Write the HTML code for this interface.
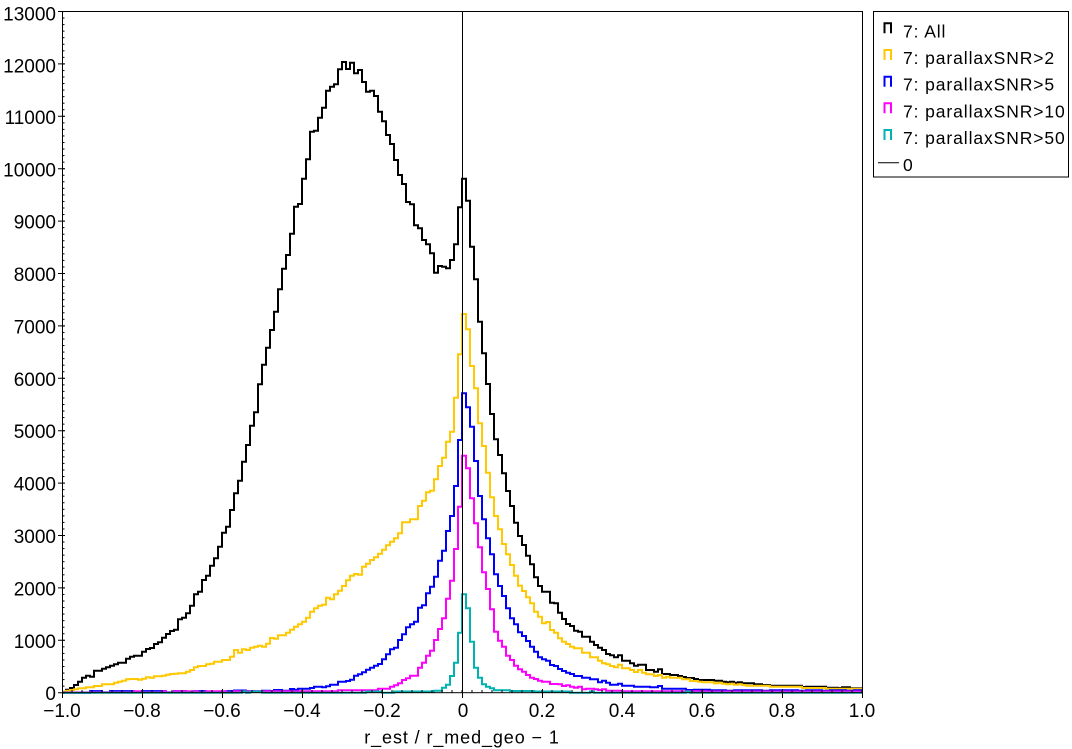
<!DOCTYPE html>
<html>
<head>
<meta charset="utf-8">
<style>
  html, body { margin: 0; padding: 0; background: #fff; }
  svg { display: block; }
  text { font-family: "Liberation Sans", "DejaVu Sans", sans-serif; fill: #000; }
</style>
</head>
<body>
<svg width="1072" height="749" viewBox="0 0 1072 749" xmlns="http://www.w3.org/2000/svg">
  <defs>
    <clipPath id="plot"><rect x="62" y="11" width="801" height="683"/></clipPath>
    <pattern id="ym" x="0" y="692.2" width="10" height="6.55" patternUnits="userSpaceOnUse">
      <rect x="0" y="0" width="10" height="1" fill="#000"/>
    </pattern>
    <pattern id="xm" x="61.5" y="0" width="10" height="10" patternUnits="userSpaceOnUse">
      <rect x="0" y="0" width="1" height="10" fill="#000"/>
    </pattern>
  </defs>
  <rect x="0" y="0" width="1072" height="749" fill="#fff"/>

  <g clip-path="url(#plot)">
    <g transform="translate(62,692.7) scale(4,-1)" fill="none" stroke-width="2" stroke-linejoin="miter">
      <!-- All -->
      <path vector-effect="non-scaling-stroke" stroke="#000" d="M0,1 H1V3 H2V4.7 H3V7.7 H4V11 H5V15 H6V17 H7V16 H8V22 H10V24 H11V25.4 H12V27 H13V28.4 H14V30 H16V34 H17V36 H18V37 H20V41 H21V43.7 H22V44.7 H23V48.7 H24V50.4 H25V55 H26V58.7 H27V61.7 H28V63 H29V73.4 H30V75 H31V79.4 H32V87 H33V98.4 H34V101 H35V112.7 H36V117 H37V127 H38V134.4 H39V146 H40V160 H41V166 H42V182.7 H43V199.4 H44V212 H45V231 H46V247.7 H47V267 H48V280.4 H49V308.4 H50V328 H51V345 H52V362.7 H53V381 H54V403.4 H55V424 H56V437.7 H57V459 H58V486 H59V488.7 H60V514 H61V533.4 H62V561 H63V562 H64V575 H65V585 H66V602 H67V606 H68V608.4 H69V623.4 H70V630.7 H71V623.7 H72V630 H73V619.4 H74V622.7 H75V610.7 H76V601 H77V602 H78V596.7 H79V581 H80V571.4 H81V557.7 H82V548.7 H83V532.7 H84V517.7 H85V508.7 H86V490.7 H87V488.4 H88V467.4 H89V464.4 H90V452.7 H91V448.4 H92V439.4 H93V420 H94V426.7 H95V426 H96V424.4 H97V432.7 H98V448.4 H99V485.4 H100V514 H101V492 H102V446 H103V413.4 H104V371 H105V339.4 H106V308.7 H107V278.7 H108V253.4 H109V237.7 H110V219.4 H111V201.7 H112V186.7 H113V170 H114V156.7 H115V147.7 H116V137 H117V128.4 H118V115.4 H119V106.7 H120V101 H122V90 H123V89.4 H124V80 H125V73.7 H126V68.7 H127V66.7 H128V62 H129V61 H130V56 H132V51 H133V47.7 H134V45 H135V42.7 H136V38.7 H137V37.4 H138V35.4 H139V37.4 H140V32 H142V29.4 H143V27 H144V28 H146V22.7 H148V21 H149V23.4 H150V18.7 H152V17.7 H154V16.7 H155V15.7 H156V14.7 H158V13.7 H159V12.7 H163V12 H165V11 H166V10.4 H167V11 H168V10 H169V10.5 H170V9.4 H173V8.4 H175V7.7 H177V7 H185V5.7 H186V6 H191V5 H194V4.7 H195V5.4 H197V4.4 H200"/>
      <!-- SNR>2 -->
      <path vector-effect="non-scaling-stroke" stroke="#ffc800" d="M0,1 H1V2 H2V2.7 H3V3.4 H4V4.4 H6V5.4 H8V6.7 H10V8.4 H13V10 H14V11 H15V12 H16V13.4 H17V13.7 H19V13 H20V14 H21V15.4 H22V15 H23V16.4 H25V17 H26V18 H27V18.7 H28V19 H29V19.4 H31V21 H32V22.7 H33V25.4 H34V26.7 H36V28.4 H37V29 H38V31 H40V32.7 H42V36 H43V42.7 H44V40 H45V43.4 H46V42.7 H47V45 H48V46 H49V47 H50V46 H51V49 H52V54.7 H53V54 H54V57.4 H56V60 H57V63 H58V66 H59V68.4 H60V71 H61V75 H62V81 H63V84.4 H64V87 H65V88 H66V95 H67V93.4 H68V98.4 H69V102 H70V106.7 H71V112.4 H72V117 H73V118.7 H74V118 H75V126 H76V129 H77V132.7 H78V135.4 H79V139 H80V143 H81V147.4 H82V151 H83V154.4 H84V159.4 H85V170.4 H87V173.4 H89V186.7 H90V192 H91V200.4 H92V202 H93V213.4 H94V226.7 H95V235 H96V251 H97V261 H98V295 H99V338.4 H100V378.7 H101V363.4 H102V326.7 H103V304.4 H104V269.4 H105V246.7 H106V220 H107V195.4 H108V176.7 H109V163.4 H110V148.7 H111V138.4 H112V127.7 H113V117 H114V107 H115V101.7 H116V95.4 H117V89.4 H118V81 H119V76 H120V69.4 H121V70.7 H122V62.7 H123V60 H124V54.4 H125V51 H126V48.7 H127V46 H128V44.4 H130V40 H132V35.4 H134V32 H135V29.4 H136V28.4 H137V26.7 H138V25.4 H139V28 H140V24.4 H142V22.7 H143V20.7 H144V22.7 H145V20 H146V18.4 H148V16.7 H149V17.7 H150V15 H151V16 H152V15 H155V13.4 H157V11.7 H159V11 H160V10.4 H163V9.5 H164V10 H165V9 H166V8.5 H167V9 H168V8 H169V8.5 H170V7.7 H171V7 H177V6 H185V4.7 H191V4 H200"/>
      <!-- SNR>5 -->
      <path vector-effect="non-scaling-stroke" stroke="#0000ff" d="M0,0 H7V1.6 H10V0.3 H12V1.6 H18V0.3 H20V1.6 H26V0.3 H28V1.6 H31V0.3 H33V1.6 H36V0.3 H41V1.6 H43V2.2 H46V1.6 H48V1.4 H50V2 H52V1.4 H53V2.7 H55V2 H57V3.7 H58V3 H59V4 H62V4.7 H63V6 H65V5.4 H66V6.4 H67V8 H69V11 H71V11.7 H72V13 H73V17 H74V18.4 H75V20.4 H76V23 H77V25 H78V27 H79V28.7 H80V33.4 H81V38.4 H82V43.4 H83V45 H84V52.7 H85V58.4 H86V65.4 H87V68.4 H88V71 H89V85 H90V87.4 H91V99.4 H92V106 H93V116 H94V132 H95V142 H96V161.7 H97V176.7 H98V206.7 H99V252.7 H100V299.4 H101V285.4 H102V266 H103V231.7 H104V196.7 H105V173.4 H106V154.4 H107V138.4 H108V118.4 H109V106.7 H110V96.7 H111V84.4 H112V74.4 H113V68.4 H114V60.4 H115V56.7 H116V51.7 H117V46 H118V41 H119V35.4 H120V33.4 H121V32 H122V27.7 H123V26.7 H124V23.7 H125V21.7 H126V20 H127V18.7 H128V16.7 H130V15 H132V13.4 H134V10.4 H135V12 H136V10 H137V8 H139V9 H140V7 H143V6 H147V5.4 H149V6.7 H150V4 H156V2.7 H158V3 H162V2.5 H166V2 H168V2.5 H175V2 H177V2.5 H184V2 H186V2.5 H190V2 H192V2.5 H196V2 H198V2.5 H200"/>
      <!-- SNR>10 -->
      <path vector-effect="non-scaling-stroke" stroke="#ff00ff" d="M0,0.3 H18V1.4 H20V0.3 H25V1.4 H26V0.3 H28V1.4 H32V0.3 H33V1.4 H34V0.3 H36V1.4 H41V0.3 H43V1.4 H69V2.4 H79V4 H82V6 H83V7.4 H84V9.4 H85V12.7 H86V14.4 H87V17 H89V25 H90V30 H91V37 H92V42 H93V52.7 H94V63.7 H95V74.4 H96V94 H97V112 H98V143.7 H99V186 H100V237 H101V224.4 H102V194.4 H103V169.4 H104V145.4 H105V120.4 H106V103.7 H107V83.4 H108V61 H109V52 H110V46 H111V37 H112V32.7 H113V27 H114V23.4 H115V21 H116V17.7 H117V15 H118V13.7 H119V12 H120V11 H122V8.7 H124V8.4 H125V6.7 H126V7.4 H127V6 H128V5 H129V6 H130V3.4 H131V4 H133V3.4 H134V2.7 H135V3.4 H136V2 H140V1.4 H161V1.2 H200"/>
      <!-- SNR>50 -->
      <path vector-effect="non-scaling-stroke" stroke="#00b2b2" d="M0,0 H45V1.2 H46V0 H47V1.2 H50V0 H76V1.2 H80V0 H83V1.2 H93V2 H95V5 H96V8 H97V16.7 H98V30 H99V60 H100V98.4 H101V84.4 H102V51 H103V25 H104V15 H105V8.4 H106V6 H107V4.4 H108V2.5 H112V1.7 H118V1.2 H127V0 H132V1.2 H133V0 H156V1.2 H157V0 H200"/>
    </g>
  </g>

  <!-- zero line -->
  <line x1="462.5" y1="11" x2="462.5" y2="693" stroke="#000" stroke-width="1"/>

  <!-- frame -->
  <rect x="62.5" y="11.5" width="800" height="681.2" fill="none" stroke="#000" stroke-width="1"/>

  <!-- minor ticks -->
  <rect x="62" y="11.5" width="2.5" height="681.5" fill="url(#ym)"/>
  <rect x="62" y="690" width="801" height="3" fill="url(#xm)"/>

  <!-- major ticks -->
  <path stroke="#000" stroke-width="1" fill="none" d="
    M58,692.7H65 M58,640.3H65 M58,587.9H65 M58,535.5H65 M58,483.1H65 M58,430.7H65 M58,378.3H65
    M58,325.9H65 M58,273.5H65 M58,221.1H65 M58,168.7H65 M58,116.3H65 M58,63.9H65 M58,11.5H65
    M62.5,689V698 M142.5,689V698 M222.5,689V698 M302.5,689V698 M382.5,689V698 M462.5,689V698
    M542.5,689V698 M622.5,689V698 M702.5,689V698 M782.5,689V698 M862.5,689V698"/>

  <!-- y tick labels -->
  <g font-size="19" text-anchor="end">
    <text x="56" y="700.2">0</text>
    <text x="56" y="647.8">1000</text>
    <text x="56" y="595.4">2000</text>
    <text x="56" y="543">3000</text>
    <text x="56" y="490.6">4000</text>
    <text x="56" y="438.2">5000</text>
    <text x="56" y="385.8">6000</text>
    <text x="56" y="333.4">7000</text>
    <text x="56" y="281">8000</text>
    <text x="56" y="228.6">9000</text>
    <text x="56" y="176.6">10000</text>
    <text x="56" y="124.2">11000</text>
    <text x="56" y="72.3">12000</text>
    <text x="56" y="20.7">13000</text>
  </g>

  <!-- x tick labels -->
  <g font-size="19" text-anchor="middle">
    <text x="62" y="717">−1.0</text>
    <text x="142" y="717">−0.8</text>
    <text x="222" y="717">−0.6</text>
    <text x="302" y="717">−0.4</text>
    <text x="382" y="717">−0.2</text>
    <text x="463" y="717">0</text>
    <text x="542" y="717">0.2</text>
    <text x="622" y="717">0.4</text>
    <text x="702" y="717">0.6</text>
    <text x="782" y="717">0.8</text>
    <text x="862" y="717">1.0</text>
  </g>

  <!-- x axis title -->
  <text x="462" y="743.3" font-size="18" letter-spacing="0.9" text-anchor="middle">r_est / r_med_geo − 1</text>

  <!-- legend -->
  <rect x="873.5" y="11.5" width="195" height="165.5" fill="#fff" stroke="#000" stroke-width="1"/>
  <g fill="none" stroke-width="2">
    <path d="M884.5,33.3V23.3H891V33.3" stroke="#000"/>
    <path d="M884.5,60V50H891V60" stroke="#ffc800"/>
    <path d="M884.5,86.7V76.7H891V86.7" stroke="#0000ff"/>
    <path d="M884.5,113.3V103.3H891V113.3" stroke="#ff00ff"/>
    <path d="M884.5,140V130H891V140" stroke="#00b2b2"/>
  </g>
  <line x1="878" y1="162.7" x2="899" y2="162.7" stroke="#000" stroke-width="1"/>
  <g font-size="17.5" letter-spacing="0.9">
    <text x="903" y="37.3">7: All</text>
    <text x="903" y="64">7: parallaxSNR&gt;2</text>
    <text x="903" y="90.7">7: parallaxSNR&gt;5</text>
    <text x="903" y="117.3">7: parallaxSNR&gt;10</text>
    <text x="903" y="144">7: parallaxSNR&gt;50</text>
    <text x="903" y="171">0</text>
  </g>
</svg>
</body>
</html>
